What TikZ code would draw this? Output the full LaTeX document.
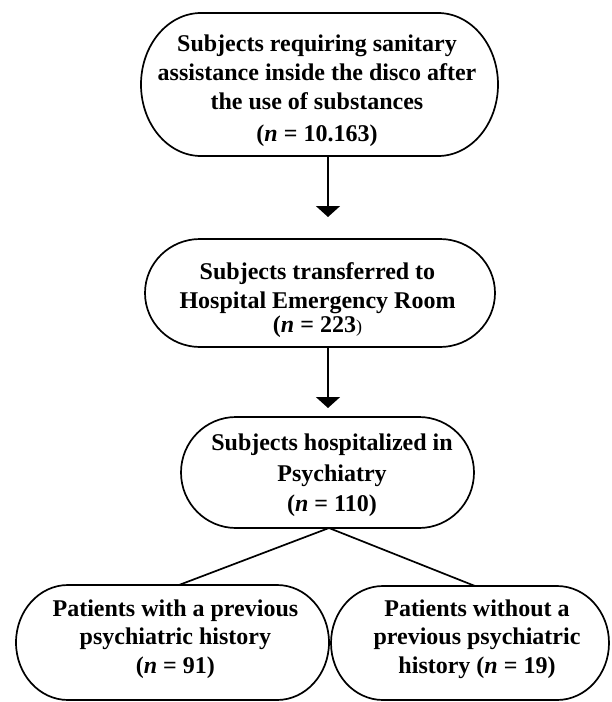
\documentclass[tikz,border=0pt]{standalone}
\usepackage{fontspec}
\setmainfont{Liberation Serif}
\usetikzlibrary{arrows.meta}
\newcommand\stadiumoutline[3]{%
  \draw[outline] ([xshift=#2]#1.north west) -- ([xshift=-#2]#1.north east)
    arc[start angle=90, end angle=-90, x radius=#2, y radius=#3]
    -- ([xshift=#2]#1.south west)
    arc[start angle=270, end angle=90, x radius=#2, y radius=#3] -- cycle;}
\begin{document}
\begin{tikzpicture}[
  box/.style={draw=none, inner sep=0pt, outer sep=0pt},
  outline/.style={draw=black, line width=0.85pt},
  lbl/.style={inner sep=0pt, anchor=base, font=\fontsize{12}{14.6}\selectfont\bfseries},
  link/.style={draw=black, line width=0.85pt},
  flow/.style={link, -{Triangle[width=12pt,length=5.5pt]}}
]
\useasboundingbox (0pt,0pt) rectangle (305.5pt,-351pt);

% boxes
\node[box, minimum width=178.5pt, minimum height=71.5pt] (b1) at (159.75pt,-42.25pt) {};
\node[box, minimum width=175pt, minimum height=54pt] (b2) at (160pt,-146.5pt) {};
\node[box, minimum width=146.5pt, minimum height=55.5pt] (b3) at (163.75pt,-236.25pt) {};
\node[box, minimum width=156.5pt, minimum height=57.5pt] (b4) at (86.25pt,-321.25pt) {};
\node[box, minimum width=139pt, minimum height=57pt] (b5) at (235pt,-321.5pt) {};

\stadiumoutline{b1}{30pt}{35.75pt}
\stadiumoutline{b2}{27.5pt}{27pt}
\stadiumoutline{b3}{27.5pt}{27.75pt}
\stadiumoutline{b4}{26pt}{28.75pt}
\stadiumoutline{b5}{26pt}{28.5pt}

% texts
\node[lbl] (t1) at (158.5pt,-25.75pt) {\begin{tabular}[t]{@{}c@{}}Subjects requiring sanitary\\ assistance inside the disco after\\ the use of substances\\[1.3pt] (\textit{n} = 10.163)\end{tabular}};
\node[lbl] (t2) at (158.75pt,-139.5pt) {\begin{tabular}[t]{@{}c@{}}Subjects transferred to\\ Hospital Emergency Room\\ \noalign{\vskip-2.7pt} (\textit{n} = 223{\mdseries\fontsize{9}{9}\selectfont)}\end{tabular}};
\node[lbl] (t3) at (166pt,-225pt) {\begin{tabular}[t]{@{}c@{}}Subjects hospitalized in\\[1.2pt] Psychiatry\\[0.4pt] (\textit{n} = 110)\end{tabular}};
\node[lbl] (t4) at (87.7pt,-308.35pt) {\begin{tabular}[t]{@{}c@{}}Patients with a previous\\ \noalign{\vskip-0.9pt} psychiatric history\\ (\textit{n} = 91)\end{tabular}};
\node[lbl] (t5) at (238.5pt,-308.35pt) {\begin{tabular}[t]{@{}c@{}}Patients without a\\ \noalign{\vskip-0.9pt} previous psychiatric\\ history (\textit{n} = 19)\end{tabular}};

% connectors
\coordinate (a1) at (164pt,-108.5pt);
\coordinate (a2) at (164pt,-204pt);
\draw[flow] (b1.south -| a1) -- (a1);
\draw[flow] (b2.south -| a2) -- (a2);
\draw[link] ([xshift=0.75pt]b3.south) -- ([xshift=3.25pt]b4.north);
\draw[link] ([xshift=0.75pt]b3.south) -- ([xshift=2.5pt]b5.north);
\end{tikzpicture}
\end{document}
